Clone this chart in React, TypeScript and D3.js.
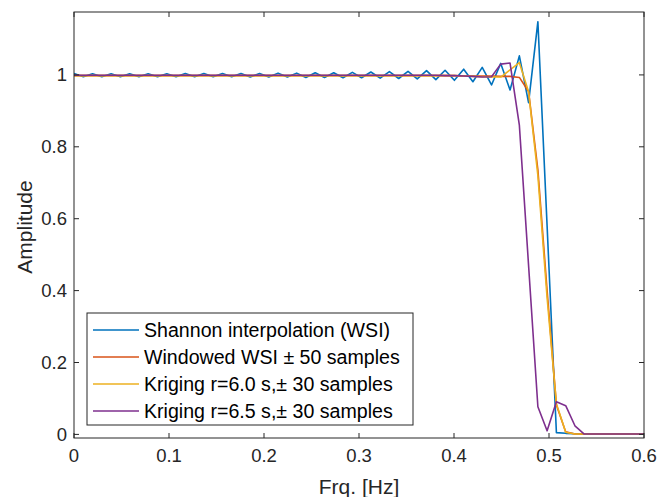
import React from "react";
import * as d3 from "d3";

const freq = [
  0, 0.0098, 0.0195, 0.0293, 0.0391, 0.0488, 0.0586, 0.0684, 0.0781, 0.0879,
  0.0977, 0.1074, 0.1172, 0.127, 0.1367, 0.1465, 0.1563, 0.166, 0.1758, 0.1855,
  0.1953, 0.2051, 0.2148, 0.2246, 0.2344, 0.2441, 0.2539, 0.2637, 0.2734, 0.2832,
  0.293, 0.3027, 0.3125, 0.3223, 0.332, 0.3418, 0.3516, 0.3613, 0.3711, 0.3809,
  0.3906, 0.4004, 0.4102, 0.4199, 0.4297, 0.4395, 0.4492, 0.459, 0.4688, 0.4785,
  0.4883, 0.498, 0.5078, 0.5176, 0.5273, 0.5371, 0.5469, 0.5566, 0.5664, 0.5762,
  0.5859, 0.5957, 0.6055,
];

const shannon = [
  1.004, 0.995, 1.003, 0.995, 1.003, 0.995, 1.003, 0.995, 1.003, 0.995,
  1.003, 0.995, 1.004, 0.995, 1.004, 0.995, 1.004, 0.995, 1.004, 0.994,
  1.004, 0.994, 1.005, 0.994, 1.005, 0.993, 1.006, 0.993, 1.006, 0.992,
  1.007, 0.992, 1.008, 0.991, 1.009, 0.99, 1.01, 0.989, 1.012, 0.987,
  1.013, 0.985, 1.016, 0.981, 1.021, 0.972, 1.032, 0.958, 1.053, 0.923,
  1.148, 0.58, 0.005, 0.003, 0.002, 0.001, 0.001, 0.001, 0.001, 0.001,
  0.001, 0.001, 0.001,
];

const windowedWSI = [
  0.998, 0.998, 0.998, 0.998, 0.998, 0.998, 0.998, 0.998, 0.998, 0.998,
  0.998, 0.998, 0.998, 0.998, 0.998, 0.998, 0.998, 0.998, 0.998, 0.998,
  0.998, 0.998, 0.998, 0.998, 0.998, 0.998, 0.998, 0.998, 0.998, 0.998,
  0.998, 0.998, 0.998, 0.998, 0.998, 0.998, 0.998, 0.998, 0.998, 0.998,
  0.998, 0.998, 0.997, 0.997, 0.997, 0.997, 0.996, 0.996, 0.993, 0.954,
  0.736, 0.4, 0.082, 0.007, 0.001, 0.001, 0.001, 0.001, 0.001, 0.001,
  0.001, 0.001, 0.001,
];

const kriging60 = [
  0.998, 0.998, 0.998, 0.998, 0.998, 0.998, 0.998, 0.998, 0.998, 0.998,
  0.998, 0.998, 0.998, 0.998, 0.998, 0.998, 0.998, 0.998, 0.998, 0.998,
  0.998, 0.998, 0.998, 0.998, 0.998, 0.998, 0.998, 0.998, 0.998, 0.998,
  0.998, 0.998, 0.998, 0.998, 0.998, 0.998, 0.998, 0.998, 0.998, 0.998,
  0.998, 0.998, 0.997, 0.996, 0.995, 0.994, 0.994, 1.014, 1.034, 0.953,
  0.72, 0.38, 0.085, 0.006, 0.001, 0.001, 0.001, 0.001, 0.001, 0.001,
  0.001, 0.001, 0.001,
];

const kriging65 = [
  0.999, 0.999, 0.999, 0.999, 0.999, 0.999, 0.999, 0.999, 0.999, 0.999,
  0.999, 0.999, 0.999, 0.999, 0.999, 0.999, 0.999, 0.999, 0.999, 0.999,
  0.999, 0.999, 0.999, 0.999, 0.999, 0.999, 0.999, 0.999, 0.999, 0.999,
  0.999, 0.999, 0.999, 0.999, 0.999, 0.999, 0.999, 0.999, 0.999, 0.999,
  0.998, 0.998, 0.997, 0.996, 0.994, 0.995, 1.03, 1.033, 0.86, 0.47,
  0.077, 0.01, 0.091, 0.08, 0.024, 0.001, 0.001, 0.001, 0.001, 0.001,
  0.001, 0.001, 0.001,
];

const seriesNames = [
  "Shannon interpolation (WSI)",
  "Windowed WSI \u00b1 50 samples",
  "Kriging r=6.0 s,\u00b1 30 samples",
  "Kriging r=6.5 s,\u00b1 30 samples",
];
const seriesColors = ["#0072BD", "#D95319", "#EDB120", "#7E2F8E"];
const seriesValues = [shannon, windowedWSI, kriging60, kriging65];

const xTicks = [0, 0.1, 0.2, 0.3, 0.4, 0.5, 0.6];
const yTicks = [0, 0.2, 0.4, 0.6, 0.8, 1];

const W = 657;
const H = 497;
const L = 74;
const R = 644;
const T = 12;
const B = 438;
const FONT = "'Liberation Sans', Arial, Helvetica, sans-serif";
const AX = "#262626";

export default function App() {
  const x = d3.scaleLinear().domain([0, 0.6]).range([L, R]);
  const y = d3.scaleLinear().domain([-0.01, 1.175]).range([B, T]);
  const line = d3
    .line<number>()
    .x((_, i) => x(freq[i]))
    .y((d) => y(d));
  const tickLen = 5;
  const fmt = (v: number) => (v === 0 ? "0" : v === 1 ? "1" : String(v));

  return (
    <svg
      width={W}
      height={H}
      style={{ position: "absolute", left: 0, top: 0, display: "block", background: "#fff" }}
    >
      <defs>
        <clipPath id="plotClip">
          <rect x={L} y={T} width={R - L} height={B - T} />
        </clipPath>
      </defs>
      <rect x={0} y={0} width={W} height={H} fill="#fff" />
      <g clipPath="url(#plotClip)">
        {seriesValues.map((vals, k) => (
          <path
            key={k}
            d={line(vals) || ""}
            fill="none"
            stroke={seriesColors[k]}
            strokeWidth={1.6}
            strokeLinejoin="round"
          />
        ))}
      </g>
      <rect x={L} y={T} width={R - L} height={B - T} fill="none" stroke={AX} strokeWidth={1} />
      {xTicks.map((t) => (
        <g key={"x" + t}>
          <line x1={x(t)} x2={x(t)} y1={B} y2={B - tickLen} stroke={AX} />
          <line x1={x(t)} x2={x(t)} y1={T} y2={T + tickLen} stroke={AX} />
          <text
            x={x(t)}
            y={B + 24}
            textAnchor="middle"
            fontFamily={FONT}
            fontSize={18.5}
            fill={AX}
          >
            {fmt(t)}
          </text>
        </g>
      ))}
      {yTicks.map((t) => (
        <g key={"y" + t}>
          <line x1={L} x2={L + tickLen} y1={y(t)} y2={y(t)} stroke={AX} />
          <line x1={R} x2={R - tickLen} y1={y(t)} y2={y(t)} stroke={AX} />
          <text
            x={L - 7}
            y={y(t)}
            dy="0.35em"
            textAnchor="end"
            fontFamily={FONT}
            fontSize={18.5}
            fill={AX}
          >
            {fmt(t)}
          </text>
        </g>
      ))}
      <text
        x={(L + R) / 2}
        y={494}
        textAnchor="middle"
        fontFamily={FONT}
        fontSize={21}
        fill={AX}
      >
        Frq. [Hz]
      </text>
      <text
        transform={`translate(32,${(T + B) / 2 + 2}) rotate(-90)`}
        textAnchor="middle"
        fontFamily={FONT}
        fontSize={21}
        fill={AX}
      >
        Amplitude
      </text>
      <g>
        <rect x={87} y={313} width={326} height={112} fill="#fff" stroke={AX} strokeWidth={1} />
        {seriesNames.map((name, k) => {
          const cy = 330 + k * 27;
          return (
            <g key={name}>
              <line x1={93} x2={139} y1={cy} y2={cy} stroke={seriesColors[k]} strokeWidth={1.6} />
              <text
                x={144}
                y={cy}
                dy="0.35em"
                fontFamily={FONT}
                fontSize={19.6}
                fill="#000"
              >
                {name}
              </text>
            </g>
          );
        })}
      </g>
    </svg>
  );
}
